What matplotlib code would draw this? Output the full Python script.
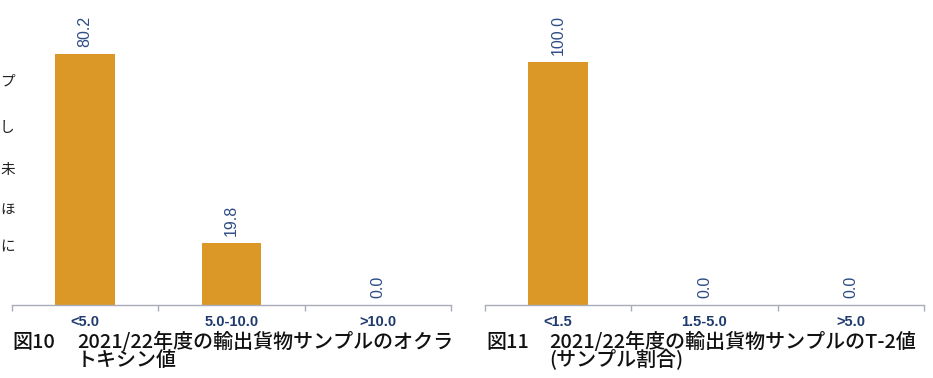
import matplotlib.pyplot as plt

plt.rcParams['font.family'] = ['Noto Sans CJK JP', 'DejaVu Sans']

# ochratoxin (left) and T-2 (right), share of samples in %
ota_bins = ['<5.0', '5.0-10.0', '>10.0']
ota_share = [80.2, 19.8, 0.0]
t2_bins = ['<1.5', '1.5-5.0', '>5.0']
t2_share = [100.0, 0.0, 0.0]

cap_left_no = '図10'
cap_left = ['2021/22年度の輸出貨物サンプルのオクラ', 'トキシン値']
cap_right_no = '図11'
cap_right = ['2021/22年度の輸出貨物サンプルのT-2値', '(サンプル割合)']
edge_chars = ['プ', 'し', '未', 'ほ', 'に']

W, H = 933, 378
bar_color = '#DC9826'
axis_color = '#A9ACBA'
label_color = '#2D4C84'
tick_color = '#1F3A6E'

fig = plt.figure(figsize=(W / 100, H / 100), dpi=100)


def px_axes(x0, x1, y_top, y_bottom):
    return fig.add_axes([x0 / W, 1 - y_bottom / H, (x1 - x0) / W, (y_bottom - y_top) / H])


def draw_panel(ax, cats, vals, ymax):
    x = range(len(cats))
    ax.bar(x, vals, width=0.41, color=bar_color, zorder=2)
    for xi, v in zip(x, vals):
        ax.annotate(f'{v:.1f}', (xi, v), xytext=(0, 5), textcoords='offset points',
                    rotation=90, ha='center', va='bottom', fontsize=11.5,
                    color=label_color, family='Liberation Sans', annotation_clip=False)
    ax.set_xlim(-0.5, len(cats) - 0.5)
    ax.set_ylim(0, ymax)
    for s in ['top', 'left', 'right']:
        ax.spines[s].set_visible(False)
    ax.spines['bottom'].set_color(axis_color)
    ax.spines['bottom'].set_linewidth(1)
    ax.set_yticks([])
    ax.set_xticks(list(x))
    ax.set_xticklabels(cats, fontsize=10.5, fontweight='bold', color=tick_color,
                       family='Liberation Sans')
    ax.tick_params(axis='x', which='major', length=0, pad=7)
    ax.set_xticks([i - 0.5 for i in range(len(cats) + 1)], minor=True)
    ax.tick_params(axis='x', which='minor', length=4, color=axis_color, width=1)
    ax.patch.set_alpha(0)


ax1 = px_axes(12, 451, 0, 305)
draw_panel(ax1, ota_bins, ota_share, 305 / 3.13)

ax2 = px_axes(485, 924, 0, 305)
draw_panel(ax2, t2_bins, t2_share, 305 / 2.427)

# captions under each chart: figure number plus a two-line title
cap_kw = dict(fontsize=14.4, ha='left', color='#111111', fontweight='medium')
fig.text(12 / W, 1 - 342 / H, cap_left_no, va='center', **cap_kw)
fig.text(77 / W, 1 - 351 / H, '\n'.join(cap_left), va='center',
         linespacing=0.85, **cap_kw)
fig.text(486 / W, 1 - 342 / H, cap_right_no, va='center', **cap_kw)
fig.text(549 / W, 1 - 351 / H, '\n'.join(cap_right), va='center',
         linespacing=0.85, **cap_kw)

# characters of the neighbouring text column along the left edge
for ch, y in zip(edge_chars, [82, 128, 170, 211, 247]):
    fig.text(0, 1 - y / H, ch, fontsize=10.5, va='center', ha='left',
             color='#222222')

fig.savefig('out.png', dpi=100)
